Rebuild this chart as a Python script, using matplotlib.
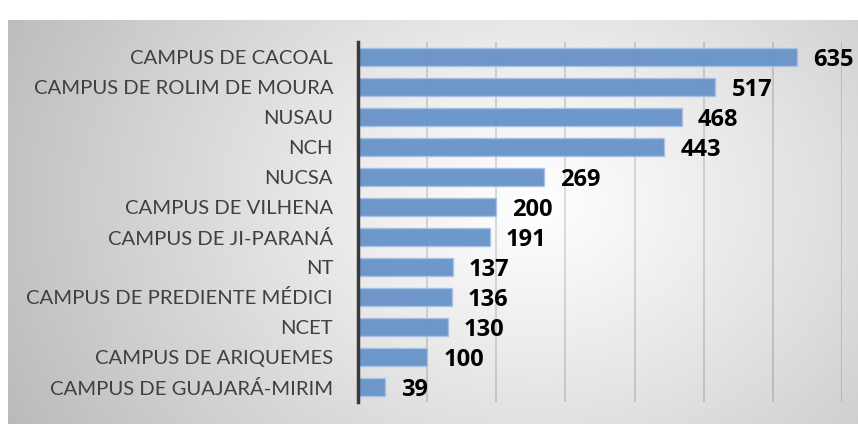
import numpy as np
import matplotlib
matplotlib.use("Agg")
import matplotlib.pyplot as plt

categories = ["CAMPUS DE CACOAL", "CAMPUS DE ROLIM DE MOURA", "NUSAU", "NCH", "NUCSA",
              "CAMPUS DE VILHENA", "CAMPUS DE JI-PARANÁ", "NT", "CAMPUS DE PREDIENTE MÉDICI",
              "NCET", "CAMPUS DE ARIQUEMES", "CAMPUS DE GUAJARÁ-MIRIM"]
values = [635, 517, 468, 443, 269, 200, 191, 137, 136, 130, 100, 39]
xticks = [0, 100, 200, 300, 400, 500, 600, 700]

W, H = 858, 424
fig = plt.figure(figsize=(W / 100, H / 100), dpi=100)
fig.patch.set_facecolor("white")

# radial gradient background panel
bg = fig.add_axes([8 / W, 0, (W - 8) / W, (H - 20) / H])
bg.set_axis_off()
gy, gx = np.mgrid[0:200, 0:400]
cx, cy = 0.62 * 400, 0.45 * 200
r = np.sqrt(((gx - cx) / 400) ** 2 + ((gy - cy) / 200 * 0.6) ** 2)
r = r / r.max()
shade = 1.0 - 0.27 * np.clip(r, 0, 1) ** 1.1
img = np.dstack([shade, shade, shade])
bg.imshow(img, aspect="auto", extent=[0, 1, 0, 1], interpolation="bilinear")
bg.set_xlim(0, 1)
bg.set_ylim(0, 1)

ax = fig.add_axes([358 / W, (H - 402) / H, (842 - 358) / W, 360 / H])
ax.patch.set_alpha(0)
y = np.arange(len(categories))
ax.barh(y, values, height=0.58, color="#6792c8", edgecolor="#a7c2e6", linewidth=1.0,
        alpha=0.95, zorder=3)
ax.set_xlim(0, 700)
ax.set_ylim(len(categories) - 0.5, -0.5)
ax.set_xticks(xticks)
ax.xaxis.grid(True, color="#000000", alpha=0.15, linewidth=1.3, zorder=0)
ax.set_axisbelow(True)
ax.tick_params(axis="x", length=0, labelbottom=False)
ax.tick_params(axis="y", length=0, pad=18)
ax.set_yticks(y)
ax.set_yticklabels(categories, fontsize=14.6, color="#404040", fontfamily="Lato")
for s in ["top", "right", "bottom"]:
    ax.spines[s].set_visible(False)
ax.spines["left"].set_color("#3a3a3a")
ax.spines["left"].set_linewidth(2.5)
ax.spines["left"].set_zorder(5)

for yi, v in zip(y, values):
    ax.annotate(str(v), xy=(v, yi), xytext=(11.5, -2), textcoords="offset points",
                ha="left", va="center", fontsize=17, fontweight="bold",
                fontfamily="Open Sans", color="black", zorder=6)

fig.savefig("out.png", dpi=100)
